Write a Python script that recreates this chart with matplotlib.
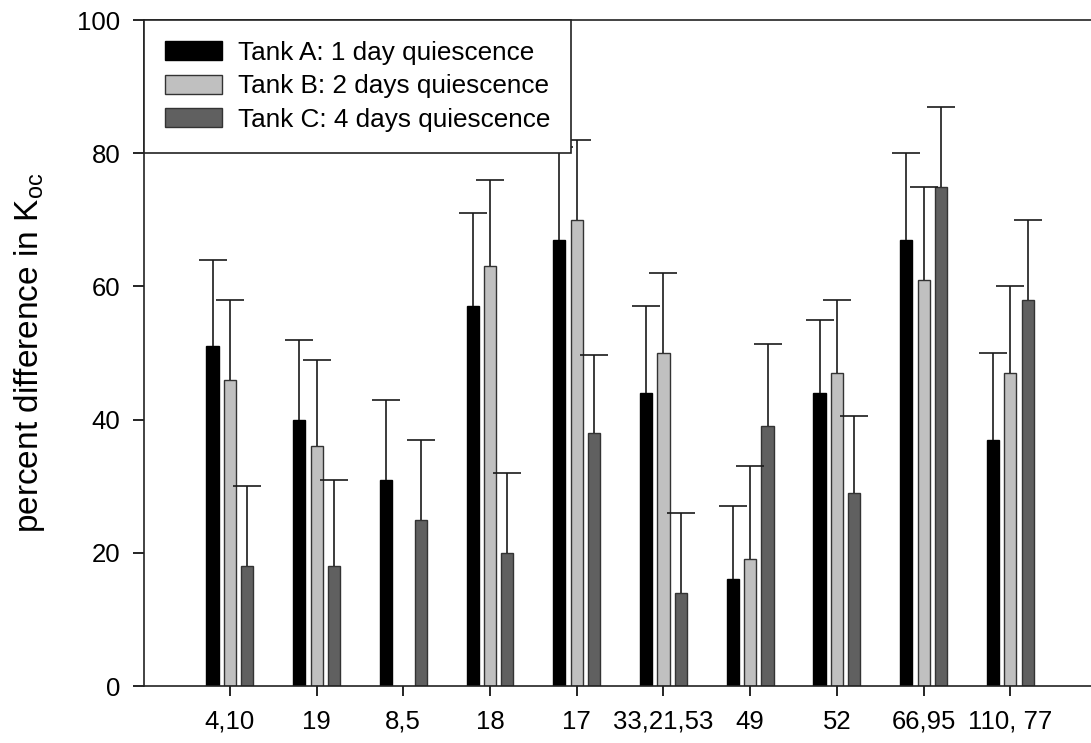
import matplotlib
matplotlib.use('Agg')
import matplotlib.pyplot as plt
import numpy as np

plt.rcParams['font.family'] = ['Liberation Sans', 'DejaVu Sans']
plt.rcParams['mathtext.default'] = 'regular'

# sample labels on x axis
categories = ['4,10', '19', '8,5', '18', '17', '33,21,53', '49', '52', '66,95', '110, 77']

# percent difference values and upper error per tank
tank_a = [51, 40, 31, 57, 67, 44, 16, 44, 67, 37]
tank_a_err = [13, 12, 12, 14, 14, 13, 11, 11, 13, 13]
tank_b = [46, 36, np.nan, 63, 70, 50, 19, 47, 61, 47]
tank_b_err = [12, 13, np.nan, 13, 12, 12, 14, 11, 14, 13]
tank_c = [18, 18, 25, 20, 38, 14, 39, 29, 75, 58]
tank_c_err = [12, 13, 12, 12, 11.7, 12, 12.3, 11.5, 12, 12]

labels = ['Tank A: 1 day quiescence', 'Tank B: 2 days quiescence', 'Tank C: 4 days quiescence']
colors = ['#000000', '#c0c0c0', '#606060']
edges = ['#000000', '#333333', '#333333']

fig = plt.figure(figsize=(10.91, 7.43), dpi=100)
ax = fig.add_axes([144 / 1091, 1 - 686 / 743, 1 - 144 / 1091, (686 - 20) / 743])

x = np.arange(len(categories))
width = 0.14
offsets = [-0.2, 0.0, 0.2]
series = [(tank_a, tank_a_err), (tank_b, tank_b_err), (tank_c, tank_c_err)]

for i, (vals, errs) in enumerate(series):
    vals = np.array(vals, dtype=float)
    errs = np.array(errs, dtype=float)
    xs = x + offsets[i]
    ax.bar(xs, vals, width, color=colors[i], edgecolor=edges[i], linewidth=1.0,
           label=labels[i], zorder=2)
    ok = ~np.isnan(vals)
    eb = ax.errorbar(xs[ok], vals[ok], yerr=[np.zeros(ok.sum()), errs[ok]], fmt='none',
                     ecolor='#1a1a1a', elinewidth=1.2, capsize=10, capthick=1.2, zorder=3)
    # only the upper cap is shown
    eb[1][0].set_visible(False)

ax.set_xlim(-0.99, 9.93)
ax.set_ylim(0, 100)
ax.set_xticks(x)
ax.set_xticklabels(categories)
ax.set_yticks([0, 20, 40, 60, 80, 100])

ax.spines['right'].set_visible(False)
for s in ['left', 'bottom', 'top']:
    ax.spines[s].set_linewidth(1.2)
    ax.spines[s].set_color('#222222')
ax.tick_params(axis='y', direction='out', length=8, width=1.2, pad=9, labelsize=18.5)
ax.tick_params(axis='x', direction='out', length=7, width=1.2, pad=10, labelsize=18.5)

ax.set_ylabel('percent difference in K$_{oc}$', fontsize=24, labelpad=22)

leg = ax.legend(loc='upper left', bbox_to_anchor=(0, 1), borderaxespad=0,
                fontsize=18.8, frameon=True, fancybox=False, edgecolor='#222222',
                framealpha=1, handlelength=2.2, handleheight=0.75, handletextpad=0.6,
                labelspacing=0.36, borderpad=0.8)
leg.get_frame().set_linewidth(1.2)
leg.set_zorder(5)

plt.savefig('out.png', dpi=100)
plt.close()
